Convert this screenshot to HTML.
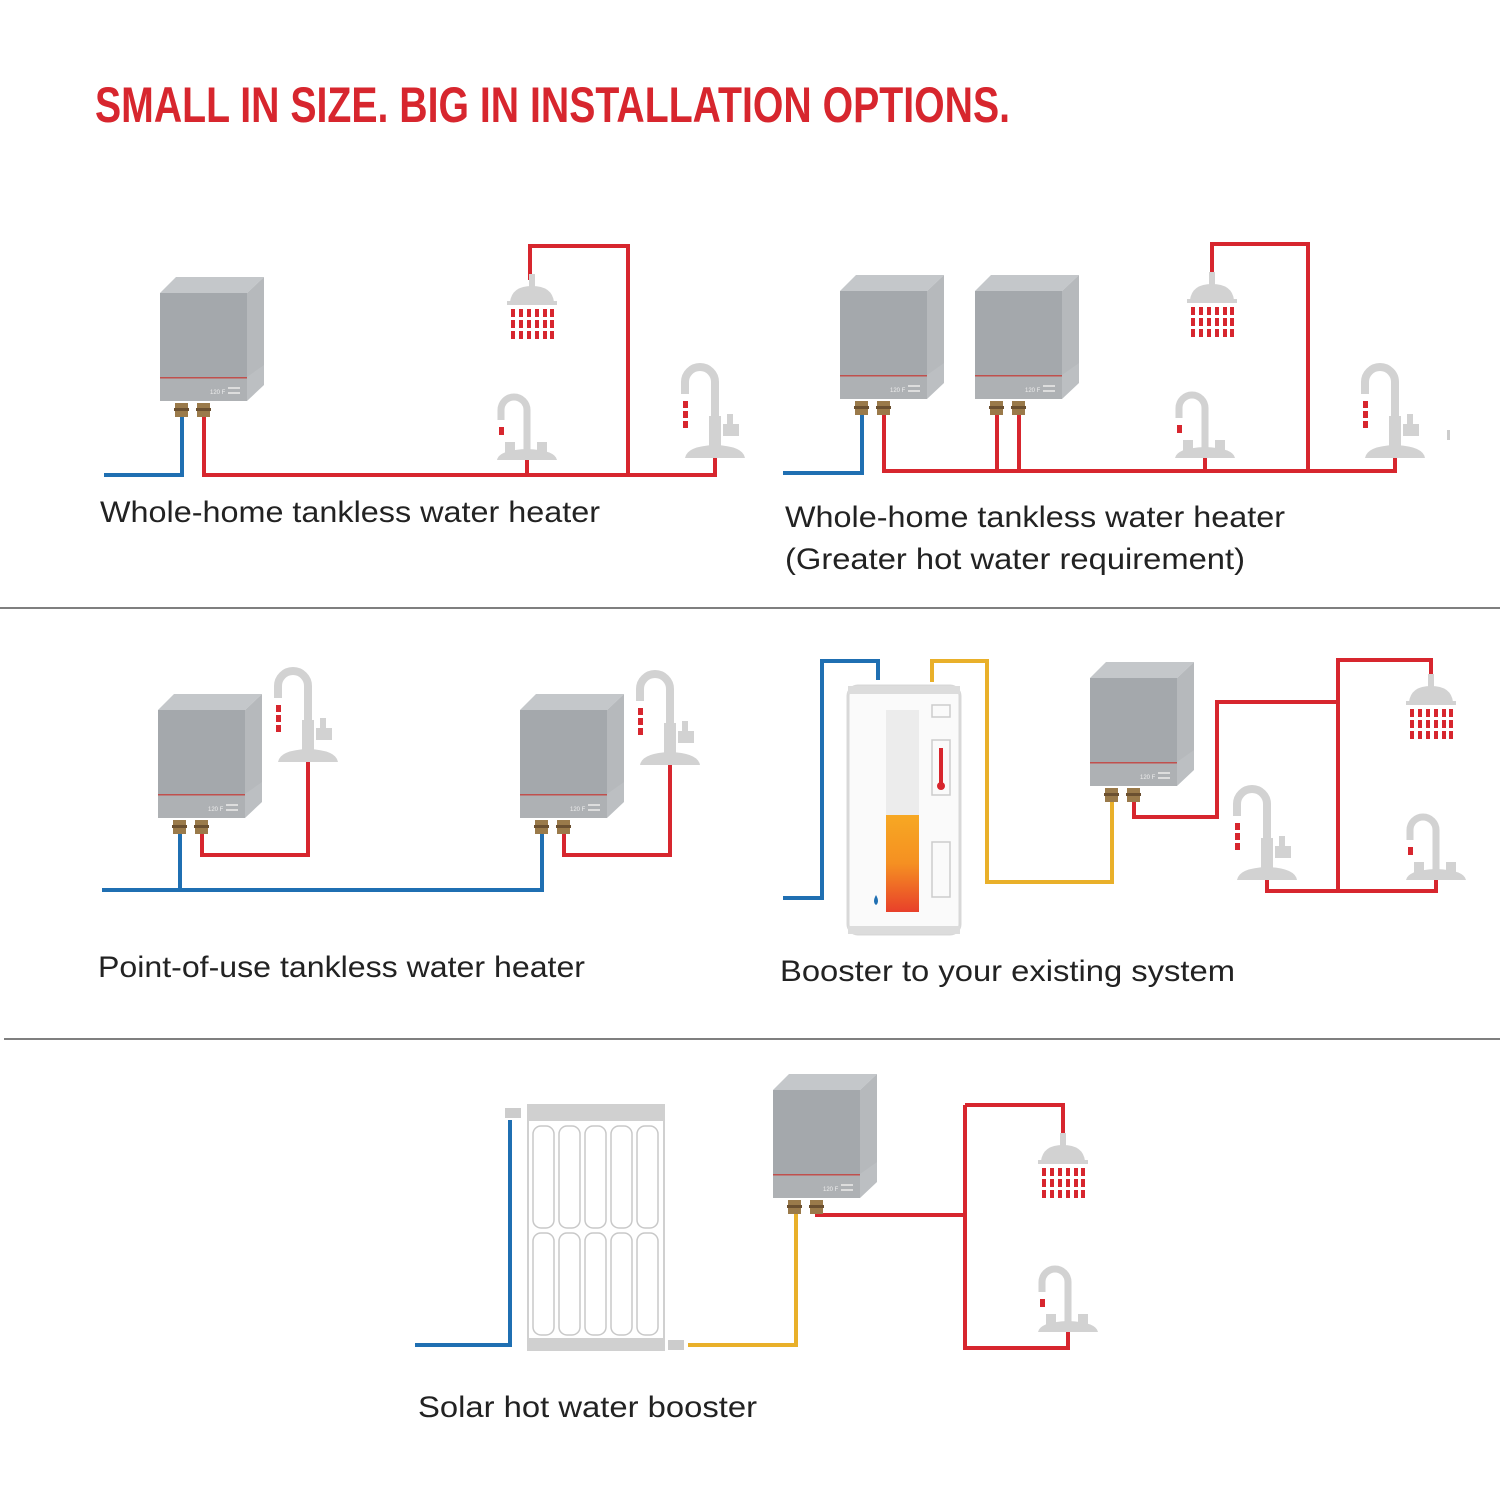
<!DOCTYPE html>
<html><head><meta charset="utf-8"><style>
html,body{margin:0;padding:0;background:#fff;}
svg{display:block;}
text{font-family:"Liberation Sans",sans-serif;}
</style></head><body>
<svg width="1500" height="1500" viewBox="0 0 1500 1500" xmlns="http://www.w3.org/2000/svg">
<defs>
<g id="heater">
  <polygon points="0,0 16,-16 104,-16 87,0" fill="#c4c7ca"/>
  <polygon points="87,0 104,-16 104,80 87,96" fill="#b6b9bc"/>
  <rect x="0" y="0" width="87" height="84" fill="#a4a8ac"/>
  <rect x="0" y="84" width="87" height="24" fill="#aeb1b4"/>
  <polygon points="87,84 104,72 104,92 87,108" fill="#bcbfc2"/>
  <rect x="0" y="84" width="87" height="1.5" fill="#c0504d"/>
  <text x="50" y="101" font-size="6" fill="#eee">120 F</text>
  <rect x="68" y="94" width="12" height="2" fill="#ddd"/>
  <rect x="68" y="99" width="12" height="2" fill="#ddd"/>
  <rect x="15" y="110" width="13" height="14" fill="#9a7a4a"/>
  <rect x="14" y="115" width="15" height="3" fill="#6b5030"/>
  <rect x="37" y="110" width="13" height="14" fill="#9a7a4a"/>
  <rect x="36" y="115" width="15" height="3" fill="#6b5030"/>
</g>
<g id="shower">
  <rect x="-3" y="-2" width="6" height="14" fill="#d2d2d2"/>
  <path d="M-22 26 Q-20 10 0 10 Q20 10 22 26 Z" fill="#d2d2d2"/>
  <rect x="-25" y="25" width="50" height="4" fill="#d2d2d2"/>
  <g fill="#d7262e">
    <rect x="-21" y="33" width="4" height="8"/><rect x="-13" y="33" width="4" height="8"/><rect x="-5" y="33" width="4" height="8"/><rect x="3" y="33" width="4" height="8"/><rect x="11" y="33" width="4" height="8"/><rect x="18" y="33" width="4" height="8"/>
    <rect x="-21" y="44" width="4" height="8"/><rect x="-13" y="44" width="4" height="8"/><rect x="-5" y="44" width="4" height="8"/><rect x="3" y="44" width="4" height="8"/><rect x="11" y="44" width="4" height="8"/><rect x="18" y="44" width="4" height="8"/>
    <rect x="-21" y="55" width="4" height="8"/><rect x="-13" y="55" width="4" height="8"/><rect x="-5" y="55" width="4" height="8"/><rect x="3" y="55" width="4" height="8"/><rect x="11" y="55" width="4" height="8"/><rect x="18" y="55" width="4" height="8"/>
  </g>
</g>
<g id="faucetA">
  <path d="M0 -10 V-76 A15 15 0 0 0 -30 -76 V-64" fill="none" stroke="#d2d2d2" stroke-width="8"/>
  <rect x="-6" y="-42" width="12" height="32" fill="#d2d2d2"/>
  <rect x="8" y="-34" width="16" height="12" fill="#d2d2d2"/>
  <rect x="12" y="-44" width="6" height="12" fill="#d2d2d2"/>
  <path d="M-30 0 Q-28 -12 0 -13 Q28 -12 30 0 Z" fill="#d2d2d2"/>
  <g fill="#d7262e"><rect x="-32" y="-57" width="5" height="7"/><rect x="-32" y="-47" width="5" height="7"/><rect x="-32" y="-37" width="5" height="7"/></g>
</g>
<g id="faucetB">
  <path d="M0 -10 V-50 A13 13 0 0 0 -26 -50 V-40" fill="none" stroke="#d2d2d2" stroke-width="7"/>
  <rect x="-22" y="-18" width="10" height="12" fill="#d2d2d2"/>
  <rect x="10" y="-18" width="10" height="12" fill="#d2d2d2"/>
  <path d="M-30 0 Q-28 -10 0 -11 Q28 -10 30 0 Z" fill="#d2d2d2"/>
  <rect x="-28" y="-33" width="5" height="8" fill="#d7262e"/>
</g>
<linearGradient id="hot" x1="0" y1="0" x2="0" y2="1">
  <stop offset="0" stop-color="#f7a823"/><stop offset="0.5" stop-color="#f59022"/><stop offset="1" stop-color="#e8402a"/>
</linearGradient>
</defs>

<text x="95" y="122" font-size="50" font-weight="bold" fill="#d7262e" textLength="915" lengthAdjust="spacingAndGlyphs">SMALL IN SIZE. BIG IN INSTALLATION OPTIONS.</text>

<line x1="0" y1="608" x2="1500" y2="608" stroke="#555" stroke-width="1.5"/>
<line x1="4" y1="1039" x2="1500" y2="1039" stroke="#555" stroke-width="1.5"/>

<g fill="none" stroke-width="4" stroke-linejoin="miter">
  <!-- section 1 -->
  <path d="M104 475 H182 V415" stroke="#1f6fb2"/>
  <path d="M204 415 V475 H715 V455" stroke="#d7262e"/>
  <path d="M628 475 V246 H530 V280" stroke="#d7262e"/>
  <path d="M527 475 V455" stroke="#d7262e"/>
  <!-- section 2 -->
  <path d="M783 473 H862 V415" stroke="#1f6fb2"/>
  <path d="M884 415 V471 H1395 V455" stroke="#d7262e"/>
  <path d="M997 415 V471 M1019 415 V471 M1205 471 V455" stroke="#d7262e"/>
  <path d="M1308 471 V244 H1212 V278" stroke="#d7262e"/>
  <!-- section 3 -->
  <path d="M102 890 H542 V830 M180 890 V830" stroke="#1f6fb2"/>
  <path d="M202 830 V855 H308 V755" stroke="#d7262e"/>
  <path d="M564 830 V855 H670 V758" stroke="#d7262e"/>
  <!-- section 4 -->
  <path d="M783 898 H822 V661 H878 V680" stroke="#1f6fb2"/>
  <path d="M932 682 V661 H987 V882 H1112 V800" stroke="#e9b02a"/>
  <path d="M1134 800 V817 H1217 V702 H1338 V660 H1431 V675" stroke="#d7262e"/>
  <path d="M1338 702 V891 H1267 V875 M1338 891 H1436 V875" stroke="#d7262e"/>
  <!-- section 5 -->
  <path d="M415 1345 H510 V1120" stroke="#1f6fb2"/>
  <path d="M688 1345 H796 V1213" stroke="#e9b02a"/>
  <path d="M817 1213 V1215 H965 M965 1105 H1063 V1135 M965 1105 V1348 H1068 V1330" stroke="#d7262e"/>
</g>

<use href="#heater" x="160" y="293"/>
<use href="#heater" x="840" y="291"/>
<use href="#heater" x="975" y="291"/>
<use href="#heater" x="158" y="710"/>
<use href="#heater" x="520" y="710"/>
<use href="#heater" x="1090" y="678"/>
<use href="#heater" x="773" y="1090"/>

<use href="#shower" x="532" y="276"/>
<use href="#shower" x="1212" y="274"/>
<use href="#shower" x="1431" y="676"/>
<use href="#shower" x="1063" y="1135"/>

<use href="#faucetB" x="527" y="460"/>
<use href="#faucetA" x="715" y="458"/>
<use href="#faucetB" x="1205" y="458"/>
<use href="#faucetA" x="1395" y="458"/>
<use href="#faucetA" x="308" y="762"/>
<use href="#faucetA" x="670" y="765"/>
<use href="#faucetA" x="1267" y="880"/>
<use href="#faucetB" x="1436" y="880"/>
<use href="#faucetB" x="1068" y="1332"/>
<rect x="1447" y="430" width="3" height="10" fill="#ccc"/>

<!-- tank -->
<g>
  <rect x="848" y="686" width="112" height="248" rx="10" fill="#fafafa" stroke="#d8d8d8" stroke-width="3"/>
  <rect x="848" y="686" width="112" height="8" fill="#dcdcdc"/>
  <rect x="848" y="926" width="112" height="8" fill="#dcdcdc"/>
  <rect x="886" y="710" width="33" height="202" fill="#ececec"/>
  <rect x="886" y="815" width="33" height="97" fill="url(#hot)"/>
  <rect x="932" y="705" width="18" height="12" fill="none" stroke="#ccc" stroke-width="1.5"/>
  <rect x="932" y="740" width="18" height="55" fill="none" stroke="#ccc" stroke-width="1.5"/>
  <rect x="939" y="748" width="4" height="36" fill="#d7262e"/>
  <circle cx="941" cy="786" r="4" fill="#d7262e"/>
  <rect x="932" y="842" width="18" height="55" fill="none" stroke="#ccc" stroke-width="1.5"/>
  <path d="M876 895 Q872 902 876 905 Q880 902 876 895Z" fill="#1f6fb2"/>
</g>

<!-- solar panel -->
<g>
  <rect x="528" y="1105" width="136" height="245" fill="#fff" stroke="#d0d0d0" stroke-width="2"/>
  <rect x="528" y="1105" width="136" height="16" fill="#d0d0d0"/>
  <rect x="528" y="1338" width="136" height="12" fill="#d0d0d0"/>
  <g fill="none" stroke="#c8c8c8" stroke-width="1.5">
    <rect x="533" y="1126" width="21" height="102" rx="8"/><rect x="559" y="1126" width="21" height="102" rx="8"/><rect x="585" y="1126" width="21" height="102" rx="8"/><rect x="611" y="1126" width="21" height="102" rx="8"/><rect x="637" y="1126" width="21" height="102" rx="8"/>
    <rect x="533" y="1233" width="21" height="102" rx="8"/><rect x="559" y="1233" width="21" height="102" rx="8"/><rect x="585" y="1233" width="21" height="102" rx="8"/><rect x="611" y="1233" width="21" height="102" rx="8"/><rect x="637" y="1233" width="21" height="102" rx="8"/>
  </g>
  <rect x="505" y="1108" width="16" height="10" fill="#ccc"/>
  <rect x="668" y="1340" width="16" height="10" fill="#ccc"/>
</g>

<g font-size="30" fill="#222">
  <text x="100" y="522" textLength="500" lengthAdjust="spacingAndGlyphs">Whole-home tankless water heater</text>
  <text x="785" y="527" textLength="500" lengthAdjust="spacingAndGlyphs">Whole-home tankless water heater</text>
  <text x="785" y="569" textLength="460" lengthAdjust="spacingAndGlyphs">(Greater hot water requirement)</text>
  <text x="98" y="977" textLength="487" lengthAdjust="spacingAndGlyphs">Point-of-use tankless water heater</text>
  <text x="780" y="981" textLength="455" lengthAdjust="spacingAndGlyphs">Booster to your existing system</text>
  <text x="418" y="1417" textLength="339" lengthAdjust="spacingAndGlyphs">Solar hot water booster</text>
</g>
</svg>
</body></html>
